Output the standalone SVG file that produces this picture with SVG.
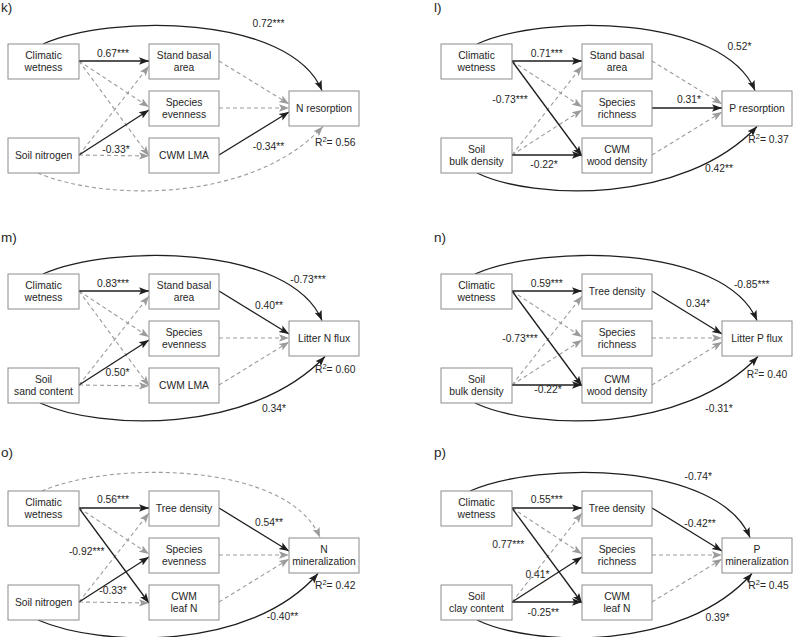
<svg xmlns="http://www.w3.org/2000/svg" width="793" height="637" viewBox="0 0 793 637">
<defs>
<style>
.bg{fill:#fff}
.box{fill:#fff;stroke:#8c8c8c;stroke-width:1}
.s{fill:none;stroke:#1e1e1e;stroke-width:1.3;marker-end:url(#ab)}
.d{fill:none;stroke:#9b9b9b;stroke-width:1.1;stroke-dasharray:4 3;marker-end:url(#ag)}
text{font-family:"Liberation Sans",Arial,sans-serif;font-size:10.3px;fill:#262626}
.c{text-anchor:middle}
.pl{font-size:13.5px}
.sup{font-size:7.5px}
</style>
<marker id="ab" markerUnits="userSpaceOnUse" markerWidth="11" markerHeight="9" viewBox="0 0 11 9" refX="10" refY="4.5" orient="auto"><path d="M0,0.8 L10,4.5 L0,8.2 L2.2,4.5 z" fill="#1e1e1e"/></marker>
<marker id="ag" markerUnits="userSpaceOnUse" markerWidth="11" markerHeight="9" viewBox="0 0 11 9" refX="10" refY="4.5" orient="auto"><path d="M0,0.8 L10,4.5 L0,8.2 L2.2,4.5 z" fill="#9b9b9b"/></marker>
</defs>
<rect class="bg" x="0" y="0" width="793" height="637"/>

<g id="panel-labels">
<text class="pl" x="1" y="12">k)</text>
<text class="pl" x="434" y="12">l)</text>
<text class="pl" x="1" y="242">m)</text>
<text class="pl" x="434" y="242">n)</text>
<text class="pl" x="1" y="457">o)</text>
<text class="pl" x="434" y="457">p)</text>
</g>

<!-- Panel k -->
<g id="panel-k">
<g id="k-connectors">
<path class="d" d="M79,61 L149,107"/>
<path class="d" d="M79,61 L149,156"/>
<path class="d" d="M79,155 L149,66"/>
<path class="d" d="M79,155 L149,156"/>
<path class="d" d="M219,61 L289,104"/>
<path class="d" d="M219,108 L289,108"/>
<path class="d" d="M38,173 C100,200 250,205 323,126.5"/>
<path class="s" d="M79,61 L149,61"/>
<path class="s" d="M79,155 L149,110"/>
<path class="s" d="M219,155 L289,112"/>
<path class="s" d="M43,44 C110,14 290,14 322,90.5"/>
<text class="c" x="268.5" y="26.5">0.72***</text>
<text class="c" x="113" y="56.5">0.67***</text>
<text class="c" x="116" y="152.5">-0.33*</text>
<text class="c" x="268.5" y="150">-0.34**</text>
<text x="315" y="145.5">R<tspan class="sup" dy="-4">2</tspan><tspan dy="4">= 0.56</tspan></text>
</g>
<g id="k-climatic"><rect class="box" x="8" y="44" width="71" height="35"/><text class="c" x="43.5" y="58.5">Climatic</text><text class="c" x="43.5" y="71">wetness</text></g>
<g id="k-basal"><rect class="box" x="149" y="44" width="70" height="35"/><text class="c" x="184" y="58.5">Stand basal</text><text class="c" x="184" y="71">area</text></g>
<g id="k-evenness"><rect class="box" x="149" y="91" width="70" height="35"/><text class="c" x="184" y="105.5">Species</text><text class="c" x="184" y="118">evenness</text></g>
<g id="k-lma"><rect class="box" x="149" y="138" width="70" height="35"/><text class="c" x="184" y="159">CWM LMA</text></g>
<g id="k-soil"><rect class="box" x="8" y="138" width="71" height="35"/><text class="c" x="43.5" y="159">Soil nitrogen</text></g>
<g id="k-resp"><rect class="box" x="289" y="91" width="70" height="35"/><text class="c" x="324" y="112">N resorption</text></g>
</g>

<!-- Panel l -->
<g id="panel-l" transform="translate(433,0)">
<g id="l-connectors">
<path class="d" d="M79,61 L149,107"/>
<path class="d" d="M79,155 L149,66"/>
<path class="d" d="M79,155 L149,110"/>
<path class="d" d="M219,61 L289,104"/>
<path class="d" d="M219,155 L289,112"/>
<path class="s" d="M79,61 L149,61"/>
<path class="s" d="M79,61 L149,156"/>
<path class="s" d="M79,155 L149,155"/>
<path class="s" d="M219,108 L289,108"/>
<path class="s" d="M44,44 C110,14 290,14 322,90.5"/>
<path class="s" d="M44,173 C100,200 250,205 324,126.5"/>
<text class="c" x="306.5" y="50">0.52*</text>
<text class="c" x="113.7" y="56.5">0.71***</text>
<text class="c" x="77" y="102.7">-0.73***</text>
<text class="c" x="256" y="102.7">0.31*</text>
<text class="c" x="111" y="168">-0.22*</text>
<text x="315.3" y="142.7">R<tspan class="sup" dy="-4">2</tspan><tspan dy="4">= 0.37</tspan></text>
<text class="c" x="286" y="171.7">0.42**</text>
</g>
<g id="l-climatic"><rect class="box" x="8" y="44" width="71" height="35"/><text class="c" x="43.5" y="58.5">Climatic</text><text class="c" x="43.5" y="71">wetness</text></g>
<g id="l-basal"><rect class="box" x="149" y="44" width="70" height="35"/><text class="c" x="184" y="58.5">Stand basal</text><text class="c" x="184" y="71">area</text></g>
<g id="l-richness"><rect class="box" x="149" y="91" width="70" height="35"/><text class="c" x="184" y="105.5">Species</text><text class="c" x="184" y="118">richness</text></g>
<g id="l-wood"><rect class="box" x="149" y="138" width="70" height="35"/><text class="c" x="184" y="152.5">CWM</text><text class="c" x="184" y="165">wood density</text></g>
<g id="l-soil"><rect class="box" x="8" y="138" width="71" height="35"/><text class="c" x="43.5" y="152.5">Soil</text><text class="c" x="43.5" y="165">bulk density</text></g>
<g id="l-resp"><rect class="box" x="289" y="91" width="70" height="35"/><text class="c" x="324" y="112">P resorption</text></g>
</g>

<!-- Panel m -->
<g id="panel-m" transform="translate(0,230)">
<g id="m-connectors">
<path class="d" d="M79,61 L149,107"/>
<path class="d" d="M79,61 L149,156"/>
<path class="d" d="M79,155 L149,66"/>
<path class="d" d="M79,155 L149,156"/>
<path class="d" d="M219,108 L289,108"/>
<path class="d" d="M219,155 L289,112"/>
<path class="s" d="M79,61 L149,61"/>
<path class="s" d="M79,155 L149,110"/>
<path class="s" d="M219,61 L289,104"/>
<path class="s" d="M43,44 C110,14 290,14 322,90.5"/>
<path class="s" d="M40,173 C100,200 250,205 325,126.5"/>
<text class="c" x="113" y="56.7">0.83***</text>
<text class="c" x="308" y="53.3">-0.73***</text>
<text class="c" x="269" y="79.3">0.40**</text>
<text class="c" x="117.5" y="146">0.50*</text>
<text x="315" y="142.7">R<tspan class="sup" dy="-4">2</tspan><tspan dy="4">= 0.60</tspan></text>
<text class="c" x="274" y="182.3">0.34*</text>
</g>
<g id="m-climatic"><rect class="box" x="8" y="44" width="71" height="35"/><text class="c" x="43.5" y="58.5">Climatic</text><text class="c" x="43.5" y="71">wetness</text></g>
<g id="m-basal"><rect class="box" x="149" y="44" width="70" height="35"/><text class="c" x="184" y="58.5">Stand basal</text><text class="c" x="184" y="71">area</text></g>
<g id="m-evenness"><rect class="box" x="149" y="91" width="70" height="35"/><text class="c" x="184" y="105.5">Species</text><text class="c" x="184" y="118">evenness</text></g>
<g id="m-lma"><rect class="box" x="149" y="138" width="70" height="35"/><text class="c" x="184" y="159">CWM LMA</text></g>
<g id="m-soil"><rect class="box" x="8" y="138" width="71" height="35"/><text class="c" x="43.5" y="152.5">Soil</text><text class="c" x="43.5" y="165">sand content</text></g>
<g id="m-resp"><rect class="box" x="289" y="91" width="70" height="35"/><text class="c" x="324" y="112">Litter N flux</text></g>
</g>

<!-- Panel n -->
<g id="panel-n" transform="translate(433,230)">
<g id="n-connectors">
<path class="d" d="M79,61 L149,107"/>
<path class="d" d="M79,155 L149,66"/>
<path class="d" d="M79,155 L149,110"/>
<path class="d" d="M219,108 L289,108"/>
<path class="d" d="M219,155 L289,112"/>
<path class="s" d="M79,61 L149,61"/>
<path class="s" d="M79,61 L149,156"/>
<path class="s" d="M79,155 L149,155"/>
<path class="s" d="M219,61 L289,104"/>
<path class="s" d="M42,44 C110,14 292,14 324,90.5"/>
<path class="s" d="M42,173 C100,200 250,205 325,126.5"/>
<text class="c" x="113.7" y="56.7">0.59***</text>
<text class="c" x="318.7" y="58.3">-0.85***</text>
<text class="c" x="265" y="77.3">0.34*</text>
<text class="c" x="87" y="112.3">-0.73***</text>
<text class="c" x="115" y="162.5">-0.22*</text>
<text x="313.7" y="147.7">R<tspan class="sup" dy="-4">2</tspan><tspan dy="4">= 0.40</tspan></text>
<text class="c" x="286" y="181.7">-0.31*</text>
</g>
<g id="n-climatic"><rect class="box" x="8" y="44" width="71" height="35"/><text class="c" x="43.5" y="58.5">Climatic</text><text class="c" x="43.5" y="71">wetness</text></g>
<g id="n-tree"><rect class="box" x="149" y="44" width="70" height="35"/><text class="c" x="184" y="65">Tree density</text></g>
<g id="n-richness"><rect class="box" x="149" y="91" width="70" height="35"/><text class="c" x="184" y="105.5">Species</text><text class="c" x="184" y="118">richness</text></g>
<g id="n-wood"><rect class="box" x="149" y="138" width="70" height="35"/><text class="c" x="184" y="152.5">CWM</text><text class="c" x="184" y="165">wood density</text></g>
<g id="n-soil"><rect class="box" x="8" y="138" width="71" height="35"/><text class="c" x="43.5" y="152.5">Soil</text><text class="c" x="43.5" y="165">bulk density</text></g>
<g id="n-resp"><rect class="box" x="289" y="91" width="70" height="35"/><text class="c" x="324" y="112">Litter P flux</text></g>
</g>

<!-- Panel o -->
<g id="panel-o" transform="translate(0,447)">
<g id="o-connectors">
<path class="d" d="M79,61 L149,107"/>
<path class="d" d="M79,155 L149,66"/>
<path class="d" d="M79,155 L149,156"/>
<path class="d" d="M219,108 L289,108"/>
<path class="d" d="M219,155 L289,112"/>
<path class="d" d="M42,44 C110,14 288,14 320,90.5"/>
<path class="s" d="M79,61 L149,61"/>
<path class="s" d="M79,61 L149,156"/>
<path class="s" d="M79,155 L149,110"/>
<path class="s" d="M219,61 L289,104"/>
<path class="s" d="M38,173 C100,200 250,205 318,126.5"/>
<text class="c" x="113" y="56.3">0.56***</text>
<text class="c" x="269" y="78.7">0.54**</text>
<text class="c" x="86.7" y="108">-0.92***</text>
<text class="c" x="113" y="147">-0.33*</text>
<text x="315" y="142.3">R<tspan class="sup" dy="-4">2</tspan><tspan dy="4">= 0.42</tspan></text>
<text class="c" x="282.5" y="173">-0.40**</text>
</g>
<g id="o-climatic"><rect class="box" x="8" y="44" width="71" height="35"/><text class="c" x="43.5" y="58.5">Climatic</text><text class="c" x="43.5" y="71">wetness</text></g>
<g id="o-tree"><rect class="box" x="149" y="44" width="70" height="35"/><text class="c" x="184" y="65">Tree density</text></g>
<g id="o-evenness"><rect class="box" x="149" y="91" width="70" height="35"/><text class="c" x="184" y="105.5">Species</text><text class="c" x="184" y="118">evenness</text></g>
<g id="o-leafn"><rect class="box" x="149" y="138" width="70" height="35"/><text class="c" x="184" y="152.5">CWM</text><text class="c" x="184" y="165">leaf N</text></g>
<g id="o-soil"><rect class="box" x="8" y="138" width="71" height="35"/><text class="c" x="43.5" y="159">Soil nitrogen</text></g>
<g id="o-resp"><rect class="box" x="289" y="91" width="70" height="35"/><text class="c" x="324" y="105.5">N</text><text class="c" x="324" y="118">mineralization</text></g>
</g>

<!-- Panel p -->
<g id="panel-p" transform="translate(433,447)">
<g id="p-connectors">
<path class="d" d="M79,61 L149,107"/>
<path class="d" d="M79,155 L149,66"/>
<path class="d" d="M219,108 L289,108"/>
<path class="d" d="M219,155 L289,112"/>
<path class="s" d="M79,61 L149,61"/>
<path class="s" d="M79,61 L149,156"/>
<path class="s" d="M79,155 L149,110"/>
<path class="s" d="M79,155 L149,155"/>
<path class="s" d="M219,61 L289,104"/>
<path class="s" d="M37,44 C105,14 285,14 317,90.5"/>
<path class="s" d="M44,173 C100,200 250,205 319,126.5"/>
<text class="c" x="265.3" y="33">-0.74*</text>
<text class="c" x="113.7" y="56.3">0.55***</text>
<text class="c" x="267" y="79.7">-0.42**</text>
<text class="c" x="75.3" y="100.7">0.77***</text>
<text class="c" x="104.5" y="131.3">0.41*</text>
<text class="c" x="110.3" y="169">-0.25**</text>
<text x="315.3" y="142.3">R<tspan class="sup" dy="-4">2</tspan><tspan dy="4">= 0.45</tspan></text>
<text class="c" x="284.5" y="173.7">0.39*</text>
</g>
<g id="p-climatic"><rect class="box" x="8" y="44" width="71" height="35"/><text class="c" x="43.5" y="58.5">Climatic</text><text class="c" x="43.5" y="71">wetness</text></g>
<g id="p-tree"><rect class="box" x="149" y="44" width="70" height="35"/><text class="c" x="184" y="65">Tree density</text></g>
<g id="p-richness"><rect class="box" x="149" y="91" width="70" height="35"/><text class="c" x="184" y="105.5">Species</text><text class="c" x="184" y="118">richness</text></g>
<g id="p-leafn"><rect class="box" x="149" y="138" width="70" height="35"/><text class="c" x="184" y="152.5">CWM</text><text class="c" x="184" y="165">leaf N</text></g>
<g id="p-soil"><rect class="box" x="8" y="138" width="71" height="35"/><text class="c" x="43.5" y="152.5">Soil</text><text class="c" x="43.5" y="165">clay content</text></g>
<g id="p-resp"><rect class="box" x="289" y="91" width="70" height="35"/><text class="c" x="324" y="105.5">P</text><text class="c" x="324" y="118">mineralization</text></g>
</g>
</svg>
